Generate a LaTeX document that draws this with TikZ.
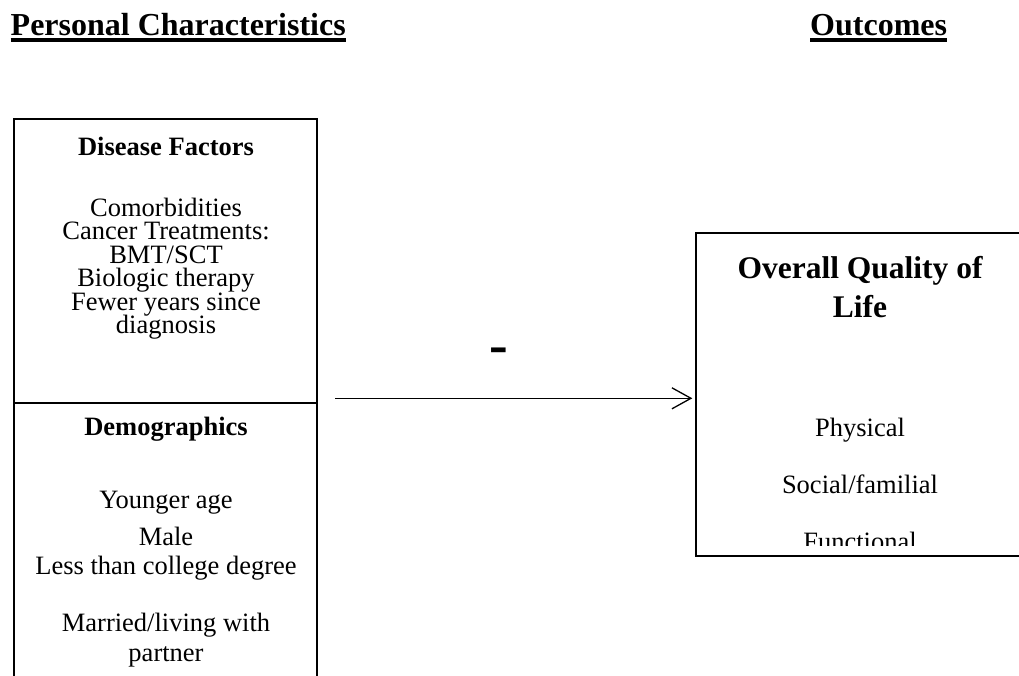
\documentclass[tikz,border=0pt]{standalone}
\usepackage{fontspec}
\setmainfont{Liberation Serif}
\usetikzlibrary{arrows.meta}
% fixed leading: lines keep their baseline distance even when glyphs touch
\newcommand\fixedleading{\lineskiplimit=-50pt\relax}
\begin{document}
\begin{tikzpicture}[x=1pt,y=-1pt,
  box/.style={draw, line width=2pt, inner sep=0pt, outer sep=0pt, anchor=north west},
  body/.style={font=\fontsize{26.5}{30}\selectfont, inner sep=0pt, anchor=base},
  block/.style={font={\fontsize{26.5}{23.5}\selectfont\fixedleading}, align=center, inner sep=0pt, anchor=base},
  sub/.style={font=\fontsize{26.5}{30}\selectfont\bfseries, inner sep=0pt, anchor=base},
  title/.style={font=\fontsize{31.5}{36}\selectfont\bfseries, inner sep=0pt, anchor=base},
  heading/.style={font=\fontsize{32}{36}\selectfont\bfseries, inner sep=0pt, anchor=base west},
  uline/.style={line width=3.4pt},
  conn/.style={line width=1.3pt, -{Straight Barb[length=19pt,width=21pt,line width=1.3pt]}},
]
\path[use as bounding box, clip] (0,0) rectangle (1019,675);

% column headings
\node[heading] (pc) at (10.5,35) {Personal Characteristics};
\node[heading] (oc) at (810,35) {Outcomes};
\draw[uline] ([yshift=-5pt]pc.base west) -- ([yshift=-5pt]pc.base east);
\draw[uline] ([yshift=-5pt]oc.base west) -- ([yshift=-5pt]oc.base east);

% boxes
\node[box, minimum width=303.5pt, minimum height=283.8pt] (disease) at (13.5,118.7) {};
\node[box, minimum width=303.5pt, minimum height=300pt] (demo) at (13.5,402.5) {};
\node[box, minimum width=330pt, minimum height=322.5pt] (qol) at (696,233.3) {};

% disease factors (node base = baseline of the last line)
\node[sub]   (dfh) at (166,155) {Disease Factors};
\node[block] (dlist) at (166,333.5) {Comorbidities\\Cancer Treatments:\\BMT/SCT\\Biologic therapy\\Fewer years since\\diagnosis};

% demographics
\node[sub]  (dmh) at (166,435.5) {Demographics};
\node[body] (m1) at (166,508.3) {Younger age};
\node[body] (m2) at (166,545)   {Male};
\node[body] (m3) at (166,574)   {Less than college degree};
\node[body] (m4) at (166,631.7) {Married/living with};
\node[body] (m5) at (166,661.7) {partner};

% outcome
\node[title] (q1) at (860,278) {Overall Quality of};
\node[title] (q2) at (860,317) {Life};
\node[body] (o1) at (860,436.7) {Physical};
\node[body] (o2) at (860,493.3) {Social/familial};
\begin{scope}
  \clip (696,233) rectangle (1019,545);
  \node[body] (o3) at (860,550) {Functional};
\end{scope}

% path and its sign
\node[font=\fontsize{56}{60}\selectfont\bfseries, inner sep=0pt, anchor=base] (minus) at (498.8,363.5) {-};
\coordinate (tail) at (335,398.3);
\draw[conn, shorten >=3.7pt] (tail) -- (tail -| qol.west);
\end{tikzpicture}
\end{document}
